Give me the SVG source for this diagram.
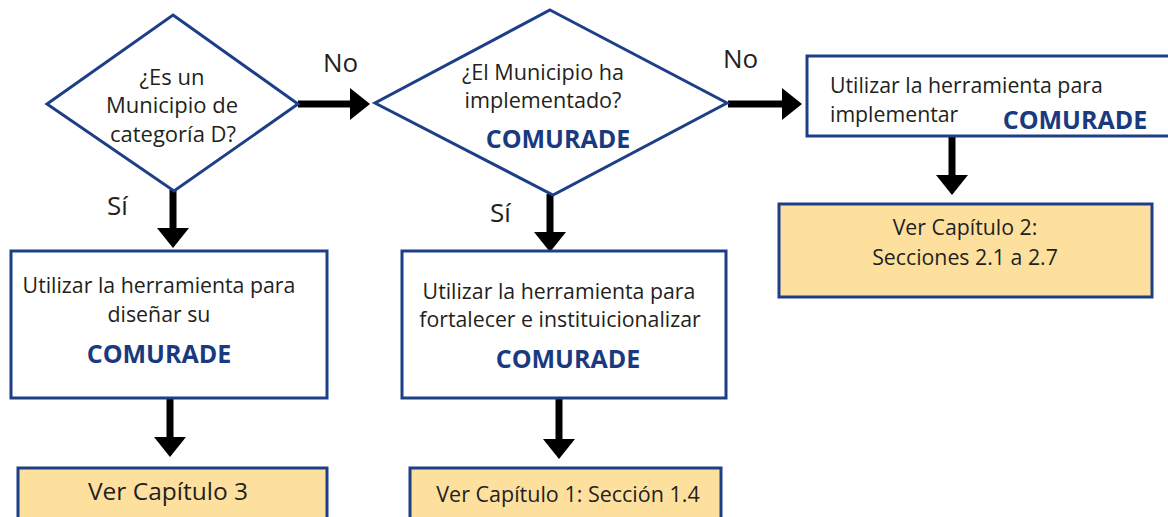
<svg xmlns="http://www.w3.org/2000/svg" width="1168" height="517" viewBox="0 0 1168 517">
<style>
.shape{fill:#fff;stroke:#1d3f87;stroke-width:3}
.ref{fill:#fde09e;stroke:#1d3f87;stroke-width:3}
.t{font-family:"Open Sans","Noto Sans",sans-serif;font-size:21.3px;fill:#231f20;text-anchor:middle}
.tl{font-family:"Open Sans","Noto Sans",sans-serif;font-size:21.3px;fill:#231f20}
.b{font-family:"Open Sans","Noto Sans",sans-serif;font-size:25px;font-weight:bold;fill:#1a3a80;text-anchor:middle}
.lbl{font-family:"Open Sans","Noto Sans",sans-serif;font-size:26px;fill:#231f20}
.c{stroke:#000;stroke-width:7;fill:none}
</style>
<defs>
<marker id="ah" markerUnits="userSpaceOnUse" viewBox="0 0 20 32" refX="2" refY="16" markerWidth="20" markerHeight="32" orient="auto">
<path d="M0,0 L20,16 L0,32 Z" fill="#000"/>
</marker>
</defs>
<g id="connectors">
<line class="c" x1="298" y1="104" x2="352" y2="104" marker-end="url(#ah)"/>
<line class="c" x1="728" y1="104" x2="784" y2="104" marker-end="url(#ah)"/>
<line class="c" x1="173" y1="190" x2="173" y2="230" marker-end="url(#ah)"/>
<line class="c" x1="550" y1="194" x2="550" y2="234" marker-end="url(#ah)"/>
<line class="c" x1="170" y1="398" x2="170" y2="439" marker-end="url(#ah)"/>
<line class="c" x1="559" y1="398" x2="559" y2="441" marker-end="url(#ah)"/>
<line class="c" x1="952" y1="136" x2="952" y2="177" marker-end="url(#ah)"/>
<text class="lbl" x="323" y="72">No</text>
<text class="lbl" x="723" y="68">No</text>
<text class="lbl" x="107" y="215">Sí</text>
<text class="lbl" x="490" y="222">Sí</text>
</g>
<g id="d1">
<polygon class="shape" points="173,15 298,104 174,191 47,104"/>
<text class="t" x="172" y="85" style="font-size:22px">¿Es un</text>
<text class="t" x="172" y="113" style="font-size:22px">Municipio de</text>
<text class="t" x="173" y="142" style="font-size:22px">categoría D?</text>
</g>
<g id="d2">
<polygon class="shape" points="550,10 727,103 553,195 375,103"/>
<text class="t" x="543" y="80" style="font-size:21.6px">¿El Municipio ha</text>
<text class="t" x="543" y="108" style="font-size:21.6px">implementado?</text>
<text class="b" x="558" y="148">COMURADE</text>
</g>
<g id="box3">
<rect class="shape" x="807" y="56" width="370" height="80"/>
<text class="tl" x="830" y="93">Utilizar la herramienta para</text>
<text class="tl" x="830" y="122">implementar</text>
<text class="b" x="1075" y="129">COMURADE</text>
</g>
<g id="box4">
<rect class="shape" x="11" y="251" width="316" height="147"/>
<text class="t" x="159" y="293">Utilizar la herramienta para</text>
<text class="t" x="159" y="322">diseñar su</text>
<text class="b" x="159" y="363">COMURADE</text>
</g>
<g id="box5">
<rect class="shape" x="402" y="251" width="324" height="147"/>
<text class="t" x="559" y="299">Utilizar la herramienta para</text>
<text class="t" x="560" y="327">fortalecer e instituicionalizar</text>
<text class="b" x="568" y="368">COMURADE</text>
</g>
<g id="box6">
<rect class="ref" x="779" y="204" width="373" height="93"/>
<text class="t" x="965" y="235">Ver Capítulo 2:</text>
<text class="t" x="965" y="265">Secciones 2.1 a 2.7</text>
</g>
<g id="box7">
<rect class="ref" x="18" y="468" width="309" height="70"/>
<text class="t" x="168" y="500" style="font-size:24.5px">Ver Capítulo 3</text>
</g>
<g id="box8">
<rect class="ref" x="410" y="468" width="311" height="70"/>
<text class="t" x="568" y="502" style="font-size:21.5px">Ver Capítulo 1: Sección 1.4</text>
</g>
</svg>
